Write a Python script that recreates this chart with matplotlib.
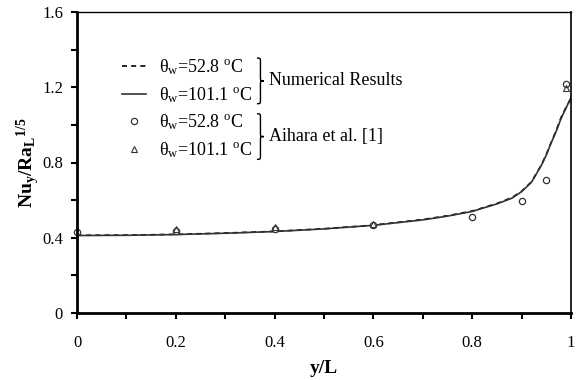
import numpy as np
import matplotlib
matplotlib.use('Agg')
import matplotlib.pyplot as plt
from matplotlib.path import Path
from matplotlib.patches import PathPatch

plt.rcParams['font.family'] = ['Liberation Serif', 'DejaVu Serif']
plt.rcParams['mathtext.fontset'] = 'custom'
plt.rcParams['mathtext.rm'] = 'Liberation Serif'
plt.rcParams['mathtext.it'] = 'Liberation Serif:italic'
plt.rcParams['mathtext.bf'] = 'Liberation Serif:bold'

# Resultados numéricos
x_num = [0, 0.1, 0.2, 0.3, 0.4, 0.5, 0.6, 0.7, 0.75, 0.8, 0.85, 0.88, 0.9, 0.92,
         0.94, 0.95, 0.96, 0.97, 0.98, 0.99, 1.0]
nu_52 = [0.413, 0.414, 0.418, 0.425, 0.434, 0.448, 0.467, 0.497, 0.517, 0.542, 0.582,
         0.613, 0.647, 0.697, 0.787, 0.843, 0.908, 0.970, 1.040, 1.093, 1.140]
nu_101 = [0.412, 0.413, 0.417, 0.424, 0.433, 0.447, 0.466, 0.495, 0.515, 0.540, 0.580,
          0.610, 0.645, 0.695, 0.785, 0.840, 0.905, 0.965, 1.035, 1.090, 1.145]

# Datos experimentales de Aihara et al.
x_exp52 = [0, 0.2, 0.4, 0.6, 0.8, 0.9, 0.95, 0.99]
nu_exp52 = [0.43, 0.437, 0.446, 0.47, 0.51, 0.596, 0.706, 1.216]
x_exp101 = [0.2, 0.4, 0.6, 0.99]
nu_exp101 = [0.445, 0.456, 0.474, 1.195]

fig = plt.figure(figsize=(5.81, 3.80), dpi=100)
ax = fig.add_axes([77 / 581, 1 - 313 / 380, 494 / 581, 301 / 380])

l1, = ax.plot(x_num, nu_52, color='black', linestyle=(0, (3, 2.5)), lw=1.2,
              label=r'θ$_\mathrm{w}$=52.8 $^\mathrm{o}$C')
l2, = ax.plot(x_num, nu_101, color='#333333', lw=1.2,
              label=r'θ$_\mathrm{w}$=101.1 $^\mathrm{o}$C')
p1, = ax.plot(x_exp52, nu_exp52, 'o', mfc='white', mec='#333333', ms=4.5, mew=0.9,
              clip_on=False, label=r'θ$_\mathrm{w}$=52.8 $^\mathrm{o}$C')
p2, = ax.plot(x_exp101, nu_exp101, '^', mfc='none', mec='#333333', ms=4, mew=0.8,
              clip_on=False, label=r'θ$_\mathrm{w}$=101.1 $^\mathrm{o}$C')

ax.set_xlim(0, 1)
ax.set_ylim(0, 1.6)
ax.set_xticks([0, 0.2, 0.4, 0.6, 0.8, 1.0])
ax.set_xticklabels(['0', '0.2', '0.4', '0.6', '0.8', '1'])
ax.set_xticks(np.arange(0.1, 1.0, 0.2), minor=True)
ax.set_yticks([0, 0.4, 0.8, 1.2, 1.6])
ax.set_yticklabels(['0', '0.4', '0.8', '1.2', '1.6'])
ax.set_yticks([0.2, 0.6, 1.0, 1.4], minor=True)
ax.tick_params(axis='both', which='both', direction='out', length=4, width=1.5,
               labelsize=12, top=False, right=False)
ax.tick_params(axis='x', which='major', pad=12)
ax.tick_params(axis='y', which='major', pad=6)
ax.spines['left'].set_linewidth(2)
ax.spines['bottom'].set_linewidth(2)
ax.spines['top'].set_linewidth(1)
ax.spines['right'].set_linewidth(1.2)

ax.set_xlabel('y/L', fontsize=14, fontweight='bold', labelpad=6)
ax.set_ylabel(r'$\mathbf{Nu_y/Ra_L{}^{1/5}}$', fontsize=14, labelpad=0)

leg = ax.legend(handles=[l1, l2, p1, p2], loc='upper left',
                bbox_to_anchor=(0.092, 0.85), frameon=False, fontsize=13,
                borderpad=0, borderaxespad=0, handlelength=1.3,
                handletextpad=0.7, labelspacing=0.45)

# Llaves y etiquetas de grupo
fig.canvas.draw()
texts = leg.get_texts()
inv = fig.transFigure.inverted()


def llave(t_top, t_bot, label):
    b1 = t_top.get_window_extent()
    b2 = t_bot.get_window_extent()
    x = max(b1.x1, b2.x1) + 5
    y1 = b1.y1 - 1
    y0 = b2.y0 + 1
    ym = (y0 + y1) / 2
    w = 7
    d = 4
    verts = [(x, y1), (x + w / 2, y1), (x + w / 2, y1), (x + w / 2, y1 - d),
             (x + w / 2, ym + d),
             (x + w / 2, ym), (x + w / 2, ym), (x + w, ym),
             (x + w / 2, ym), (x + w / 2, ym), (x + w / 2, ym - d),
             (x + w / 2, y0 + d),
             (x + w / 2, y0), (x + w / 2, y0), (x, y0)]
    codes = [Path.MOVETO, Path.CURVE4, Path.CURVE4, Path.CURVE4, Path.LINETO,
             Path.CURVE4, Path.CURVE4, Path.CURVE4,
             Path.CURVE4, Path.CURVE4, Path.CURVE4, Path.LINETO,
             Path.CURVE4, Path.CURVE4, Path.CURVE4]
    verts = inv.transform(verts)
    fig.add_artist(PathPatch(Path(verts, codes), fill=False, lw=1.0,
                             edgecolor='black', transform=fig.transFigure))
    tx, ty = inv.transform((x + w + 5, ym))
    fig.text(tx, ty, label, fontsize=13, va='center', ha='left')


llave(texts[0], texts[1], 'Numerical Results')
llave(texts[2], texts[3], 'Aihara et al. [1]')

fig.savefig('out.png', dpi=100)
